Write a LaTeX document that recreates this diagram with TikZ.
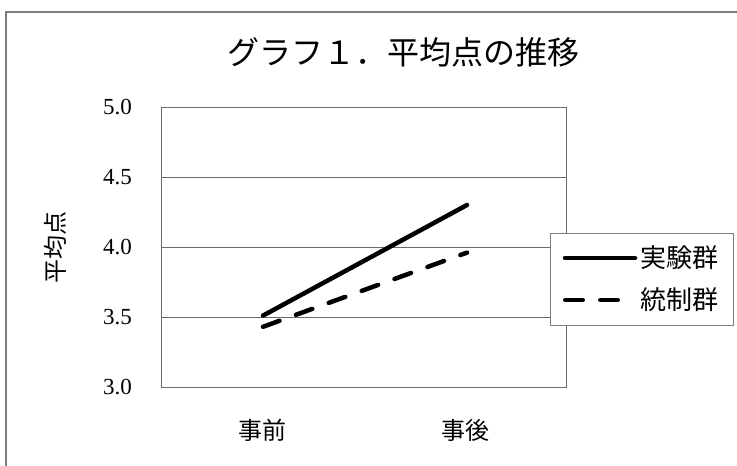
\documentclass[tikz,border=0pt]{standalone}
\usepackage{fontspec}
\setmainfont{Liberation Serif}
\newfontfamily\jpfont{Noto Sans CJK JP}
\usetikzlibrary{positioning, calc}
\definecolor{gridcolor}{RGB}{105,105,105}
\definecolor{framecolor}{RGB}{125,125,125}

\begin{document}
\begin{tikzpicture}[x=1pt,y=-1pt,
  tick/.style={anchor=east,inner sep=0pt,font=\fontsize{23}{23}\selectfont},
  jplabel/.style={inner sep=0pt,font=\jpfont\fontsize{24}{24}\selectfont},
  series/.style={line width=4.5pt,line cap=round},
  dashseries/.style={series,dash pattern=on 17.5pt off 17.5pt}]
\useasboundingbox (0,0) rectangle (737,466);
\clip (0,0) rectangle (737,466);
% Frame
\draw[framecolor,line width=1.2pt] (6,12) rectangle (760,490);
\node[inner sep=0pt,font=\jpfont\fontsize{32}{32}\selectfont] (title) at (403,52) {グラフ１．平均点の推移};

% Plot area
\draw[gridcolor,line width=0.9pt] (161,107) rectangle (566,387);
\foreach \v [count=\i] in {3.0,3.5,4.0,4.5,5.0} {
    \pgfmathsetmacro{\yy}{387-140*(\v-3)}
    \draw[gridcolor,line width=0.9pt] (161,\yy) -- (566,\yy);
    \node[tick] (tick\i) at (132,\yy) {\v};
}
\node[jplabel,rotate=90] (ylabel) at (55,247) {平均点};
\node[jplabel] (pre) at (262,430) {事前};
\node[jplabel] (post) at (465,430) {事後};

% Data
\coordinate (exp1) at (263,315.6);
\coordinate (exp2) at (467,205);
\coordinate (ctl1) at (263,326.8);
\coordinate (ctl2) at (467,252.6);
\draw[series] (exp1) -- (exp2);
\draw[dashseries] (ctl1) -- (ctl2);

% Legend
\node[draw=framecolor,line width=1pt,fill=white,anchor=north west,
      minimum width=183,minimum height=92,inner sep=0pt] (legend) at (550,233) {};
\coordinate (lgexpa) at (565,258);
\coordinate (lgexpb) at (635,258);
\coordinate (lgctla) at (565.25,300);
\coordinate (lgctlb) at (617.75,300);
\draw[series] (lgexpa) -- (lgexpb);
\draw[dashseries] (lgctla) -- (lgctlb);
\node[jplabel,anchor=west,font=\jpfont\fontsize{26}{26}\selectfont] (expname) at (640,258) {実験群};
\node[jplabel,anchor=west,font=\jpfont\fontsize{26}{26}\selectfont] (ctlname) at (640,300) {統制群};
\end{tikzpicture}
\end{document}
